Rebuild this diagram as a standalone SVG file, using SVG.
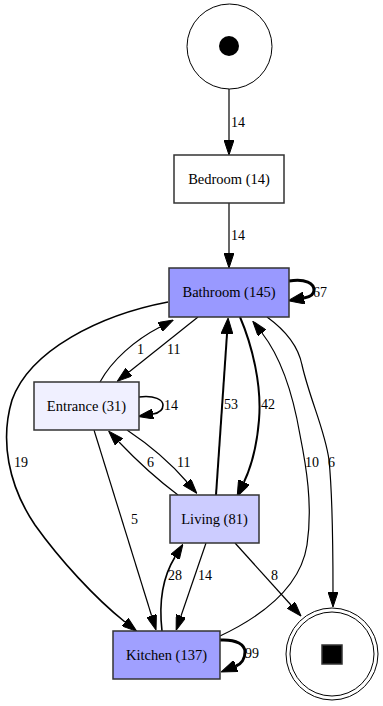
<svg xmlns="http://www.w3.org/2000/svg" width="383" height="706" viewBox="0 0 383 706">
  <style>
    .node rect { stroke: #333333; stroke-width: 1.5; }
    .node text { font-family: "Liberation Serif", "Times New Roman", serif; font-size: 14.5px; text-anchor: middle; fill: #000; }
    .circ { fill: #ffffff; stroke: #000; stroke-width: 1; }
    .edges path { fill: none; stroke: #000; stroke-width: 1.2; }
    .edges .w2 { stroke-width: 2; }
    .edges .w3 { stroke-width: 3; }
    .edges .w15 { stroke-width: 1.6; }
    .lbl { font-family: "Liberation Serif", "Times New Roman", serif; font-size: 14px; fill: #000; }
  </style>
  <defs>
    <marker id="arrow" viewBox="0 0 15 10" refX="0" refY="5" markerWidth="15" markerHeight="10" markerUnits="userSpaceOnUse" orient="auto">
      <path d="M0,0 L15,5 L0,10 Z" fill="#000" stroke="#000" stroke-width="1"/>
    </marker>
    <marker id="arrowBig" viewBox="0 0 16 12" refX="0" refY="6" markerWidth="16" markerHeight="12" markerUnits="userSpaceOnUse" orient="auto">
      <path d="M0,0 L16,6 L0,12 Z" fill="#000" stroke="#000" stroke-width="1"/>
    </marker>
  </defs>

  <rect width="383" height="706" fill="#ffffff"/>

  <!-- connectors -->
  <g id="edges" class="edges">
    <path d="M229,89 L229,140" marker-end="url(#arrow)"/>
    <path d="M229,203 L229,253" marker-end="url(#arrow)"/>
    <path class="w3" d="M289,281 C306,278 314,284 314,290 C314,295 310,297 304,298" marker-end="url(#arrowBig)"/>
    <path d="M198,317 L129,372" marker-end="url(#arrow)"/>
    <path d="M100,382 C112,360 135,340 160,327" marker-end="url(#arrow)"/>
    <path class="w15" d="M139,397 C155,395 163,400 163,405 C163,410 159,413 153,414" marker-end="url(#arrow)"/>
    <path class="w15" d="M168,302 C100,315 30,350 12,400 C0,440 8,485 35,525 C60,560 95,598 125,622" marker-end="url(#arrow)"/>
    <path class="w2" d="M240,317 C252,345 262,385 259,420 C257,445 252,465 244,482" marker-end="url(#arrowBig)"/>
    <path class="w2" d="M216,495 L227,334" marker-end="url(#arrowBig)"/>
    <path d="M267,317 C285,330 298,345 302,365 C310,400 325,430 329,460 C333,500 333,560 333,592" marker-end="url(#arrow)"/>
    <path d="M220,636 C258,618 300,590 307,545 C313,505 306,465 300,435 C294,400 283,360 262,333" marker-end="url(#arrow)"/>
    <path d="M127,430 C148,444 168,460 187,482" marker-end="url(#arrow)"/>
    <path d="M178,495 C158,480 138,462 119,442" marker-end="url(#arrow)"/>
    <path d="M94,430 L151.6,615.7" marker-end="url(#arrow)"/>
    <path class="w15" d="M162,631 C159,605 162,578 175,557" marker-end="url(#arrow)"/>
    <path d="M206,543 L181,616" marker-end="url(#arrow)"/>
    <path d="M235,543 L291,605" marker-end="url(#arrow)"/>
    <path class="w3" d="M220,640 C237,639 245,645 245,652 C245,659 241,664 236,666" marker-end="url(#arrowBig)"/>
  </g>

  <!-- edge labels -->
  <g id="edge-labels">
    <text class="lbl" x="231" y="127">14</text>
    <text class="lbl" x="231" y="240">14</text>
    <text class="lbl" x="313" y="297">67</text>
    <text class="lbl" x="137" y="354">1</text>
    <text class="lbl" x="167" y="354">11</text>
    <text class="lbl" x="164" y="410">14</text>
    <text class="lbl" x="224" y="409">53</text>
    <text class="lbl" x="261" y="409">42</text>
    <text class="lbl" x="14" y="467">19</text>
    <text class="lbl" x="147" y="467">6</text>
    <text class="lbl" x="177" y="467">11</text>
    <text class="lbl" x="305" y="467">10</text>
    <text class="lbl" x="328" y="467">6</text>
    <text class="lbl" x="131" y="524">5</text>
    <text class="lbl" x="168" y="580">28</text>
    <text class="lbl" x="198" y="580">14</text>
    <text class="lbl" x="271" y="580">8</text>
    <text class="lbl" x="245" y="658">99</text>
  </g>

  <!-- start place -->
  <g id="start" class="node">
    <circle class="circ" cx="229.5" cy="46.5" r="42.5"/>
    <circle cx="229" cy="46" r="10" fill="#000"/>
  </g>

  <g id="bedroom" class="node">
    <rect x="174" y="155" width="110" height="48" fill="#ffffff"/>
    <text x="229" y="184">Bedroom (14)</text>
  </g>

  <g id="bathroom" class="node">
    <rect x="169" y="268" width="120" height="49" fill="#9999ff"/>
    <text x="229" y="297">Bathroom (145)</text>
  </g>

  <g id="entrance" class="node">
    <rect x="34" y="382" width="105" height="48" fill="#f0f0ff"/>
    <text x="86.5" y="411">Entrance (31)</text>
  </g>

  <g id="living" class="node">
    <rect x="170" y="495" width="89" height="48" fill="#ccccff"/>
    <text x="214.5" y="524">Living (81)</text>
  </g>

  <g id="kitchen" class="node">
    <rect x="113" y="631" width="107" height="48" fill="#a0a0ff"/>
    <text x="166.5" y="660">Kitchen (137)</text>
  </g>

  <!-- end place -->
  <g id="end" class="node">
    <circle class="circ" cx="332" cy="654" r="46"/>
    <circle class="circ" cx="332" cy="654" r="42"/>
    <rect x="322" y="645" width="20" height="19" fill="#000" stroke="none"/>
  </g>
</svg>
